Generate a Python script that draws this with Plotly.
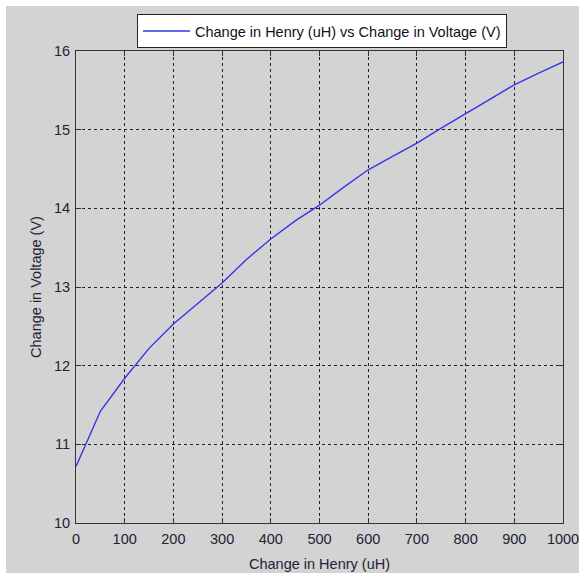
import plotly.graph_objects as go

henry_uH = [0, 50, 100, 150, 200, 250, 300, 350, 400, 450, 500,
            550, 600, 650, 700, 750, 800, 850, 900, 950, 1000]
voltage_V = [10.72, 11.42, 11.84, 12.22, 12.53, 12.79, 13.05, 13.35, 13.61, 13.84, 14.04,
             14.27, 14.49, 14.66, 14.83, 15.02, 15.20, 15.38, 15.57, 15.72, 15.86]

x_ticks = [0, 100, 200, 300, 400, 500, 600, 700, 800, 900, 1000]
y_ticks = [10, 11, 12, 13, 14, 15, 16]

W, H = 580, 575
L, R, T, B = 76, 17, 51, 52
pw, ph = W - L - R, H - T - B

FONT = "Liberation Sans, Arial, sans-serif"
TXT = "#222233"

def px_x(p):
    return (p - L) / pw

def px_y(p):
    return (H - B - p) / ph

fig = go.Figure()
fig.add_trace(go.Scatter(
    x=henry_uH, y=voltage_V, mode="lines",
    name="Change in Henry (uH) vs Change in Voltage (V)",
    line=dict(color="#3535ea", width=1.4),
))

axis_common = dict(
    showline=True, linecolor="#333333", linewidth=1, mirror="ticks",
    ticks="inside", ticklen=5, tickcolor="#333333", tickwidth=1,
    showgrid=True, gridcolor="#222222", gridwidth=1, griddash="3px,3px",
    zeroline=False, automargin=False,
    tickfont=dict(family=FONT, size=14.5, color=TXT),
)

fig.update_xaxes(range=[0, 1000], tickvals=x_ticks, ticklabelstandoff=3,
                 title=dict(text="Change in Henry (uH)", standoff=12,
                            font=dict(family=FONT, size=14.5, color=TXT)),
                 **axis_common)
fig.update_yaxes(range=[10, 16], tickvals=y_ticks, ticklabelstandoff=2,
                 title=dict(text="Change in Voltage (V)", standoff=8,
                            font=dict(family=FONT, size=14.5, color=TXT)),
                 **axis_common)

fig.add_shape(type="rect", xref="paper", yref="paper",
              x0=px_x(6), x1=px_x(579), y0=px_y(573), y1=px_y(6),
              fillcolor="#d3d3d3", line=dict(width=0), layer="below")

fig.update_layout(
    width=W, height=H,
    margin=dict(l=L, r=R, t=T, b=B),
    paper_bgcolor="white", plot_bgcolor="white",
    showlegend=True,
    legend=dict(x=px_x(137), y=px_y(14), xanchor="left", yanchor="top",
                bgcolor="white", bordercolor="#222222", borderwidth=1,
                itemwidth=47,
                font=dict(family=FONT, size=14.5, color="#111122")),
)

fig.write_html("out.html",
               config={"displayModeBar": False},
               post_script="document.body.style.margin='0';document.body.style.overflow='hidden';")
